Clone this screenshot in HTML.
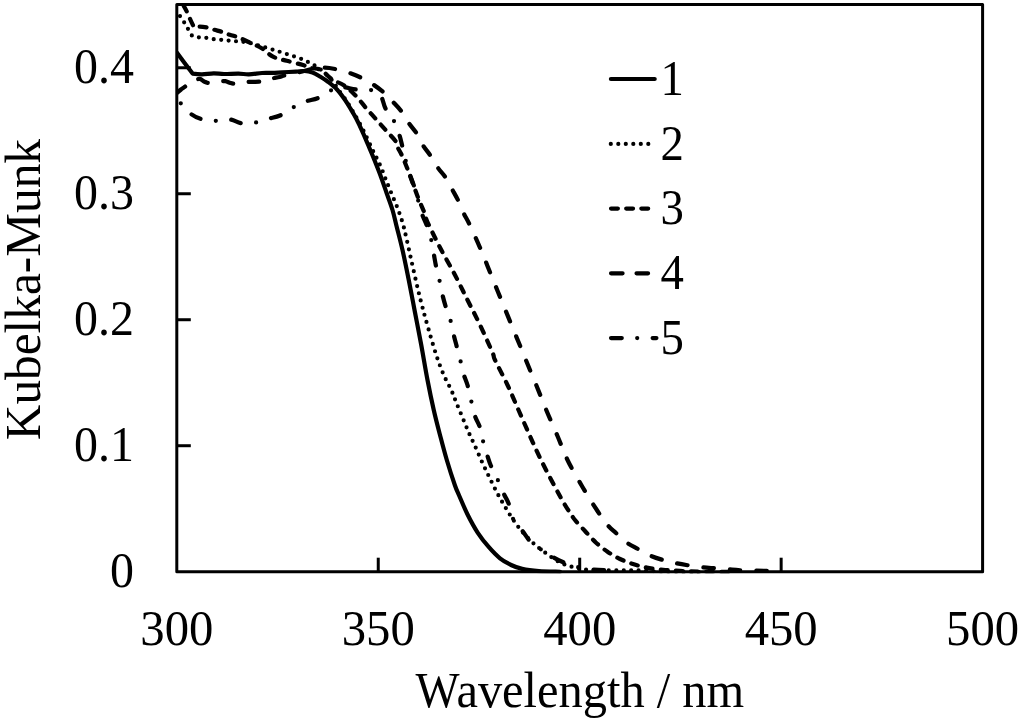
<!DOCTYPE html>
<html lang="en"><head><meta charset="utf-8"><title>Kubelka-Munk vs Wavelength</title>
<style>
html,body{margin:0;padding:0;background:#fff;}
body{width:1024px;height:720px;overflow:hidden;}
svg{display:block;}
text{font-family:"Liberation Serif","Times New Roman",Times,serif;font-size:48.7px;fill:#000;}
.c{fill:none;stroke:#000;stroke-width:4.25;stroke-linecap:round;stroke-linejoin:round;}
.ax{fill:none;stroke:#000;stroke-width:3.0;stroke-linecap:round;stroke-linejoin:round;}
.tk{fill:none;stroke:#000;stroke-width:3.0;stroke-linecap:butt;}
</style></head><body>
<svg width="1024" height="720" viewBox="0 0 1024 720">
<rect width="1024" height="720" fill="#fff"/>
<defs><clipPath id="pa"><rect x="176.8" y="4.4" width="805.8" height="568.7500000000001"/></clipPath></defs>

<g clip-path="url(#pa)">
<path class="c" style="stroke-width:4.2" d="M177.00,52.80 C179.60,56.27 192.60,73.60 192.60,73.60 C192.60,73.60 198.48,74.35 202.00,74.30 C205.52,74.25 210.03,73.35 213.70,73.30 C217.37,73.25 219.85,73.95 224.00,74.00 C228.15,74.05 234.47,73.53 238.60,73.60 C242.73,73.67 244.90,74.50 248.80,74.40 C252.70,74.30 258.13,73.25 262.00,73.00 C265.87,72.75 268.58,73.02 272.00,72.90 C275.42,72.78 278.50,72.52 282.50,72.30 C286.50,72.08 292.33,71.82 296.00,71.60 C299.67,71.38 301.75,70.83 304.50,71.00 C307.25,71.17 309.92,71.68 312.50,72.60 C315.08,73.52 317.37,74.93 320.00,76.50 C322.63,78.07 325.47,79.83 328.30,82.00 C331.13,84.17 334.20,86.50 337.00,89.50 C339.80,92.50 342.80,96.72 345.10,100.00 C347.40,103.28 348.95,106.12 350.80,109.20 C352.65,112.28 354.13,114.48 356.20,118.50 C358.27,122.52 360.86,128.05 363.20,133.30 C365.54,138.55 368.38,145.55 370.25,150.00 C372.12,154.45 372.72,155.83 374.40,160.00 C376.07,164.17 378.25,169.45 380.30,175.00 C382.35,180.55 384.67,187.47 386.70,193.30 C388.73,199.13 390.83,204.43 392.50,210.00 C394.17,215.57 395.03,220.03 396.70,226.70 C398.37,233.37 400.49,241.12 402.50,250.00 C404.51,258.88 406.67,269.58 408.75,280.00 C410.83,290.42 412.92,301.67 415.00,312.50 C417.08,323.33 419.17,333.75 421.25,345.00 C423.33,356.25 425.42,369.17 427.50,380.00 C429.58,390.83 431.67,400.83 433.75,410.00 C435.83,419.17 437.82,426.67 440.00,435.00 C442.18,443.33 444.33,451.67 446.80,460.00 C449.27,468.33 452.78,479.17 454.80,485.00 C456.82,490.83 456.73,490.00 458.90,495.00 C461.07,500.00 464.65,508.70 467.80,515.00 C470.95,521.30 474.28,527.43 477.80,532.80 C481.32,538.17 485.20,542.95 488.90,547.20 C492.60,551.45 496.30,555.33 500.00,558.30 C503.70,561.27 507.40,563.23 511.10,565.00 C514.80,566.77 517.57,567.88 522.20,568.90 C526.83,569.92 532.60,570.62 538.90,571.10 C545.20,571.58 556.48,571.68 560.00,571.80"/>
<path class="c" style="stroke-width:4.2" stroke-dasharray="0 7.5" stroke-dashoffset="2.04" d="M177.80,11.10 C178.17,11.93 178.93,14.20 180.00,16.10 C181.07,18.00 182.90,20.35 184.25,22.50 C185.60,24.65 186.82,26.82 188.10,29.00 C189.38,31.18 191.90,35.60 191.90,35.60 C191.90,35.60 196.53,36.92 199.00,37.30 C201.47,37.68 204.22,37.58 206.70,37.90 C209.18,38.22 211.45,38.88 213.90,39.20 C216.35,39.52 219.00,39.58 221.40,39.80 C223.80,40.02 225.75,40.25 228.30,40.50 C230.85,40.75 233.42,40.97 236.70,41.30 C239.98,41.63 244.12,41.72 248.00,42.50 C251.88,43.28 255.83,44.80 260.00,46.00 C264.17,47.20 268.55,48.37 273.00,49.70 C277.45,51.03 282.03,52.49 286.70,54.00 C291.37,55.51 297.45,57.42 301.00,58.75 C304.55,60.08 305.71,60.86 308.00,62.00 C310.29,63.14 312.65,64.37 314.75,65.60 C316.85,66.83 318.56,67.80 320.60,69.40 C322.64,71.00 324.93,73.18 327.00,75.20 C329.07,77.22 331.13,79.12 333.00,81.50 C334.87,83.88 336.07,86.42 338.20,89.50 C340.33,92.58 343.58,96.72 345.80,100.00 C348.02,103.28 349.63,106.12 351.50,109.20 C353.37,112.28 354.78,114.48 357.00,118.50 C359.22,122.52 362.20,128.05 364.80,133.30 C367.40,138.55 370.47,145.55 372.60,150.00 C374.73,154.45 376.12,156.95 377.60,160.00 C379.08,163.05 380.10,164.97 381.50,168.30 C382.90,171.63 384.30,175.72 386.00,180.00 C387.70,184.28 389.78,189.33 391.70,194.00 C393.62,198.67 395.70,203.25 397.50,208.00 C399.30,212.75 401.04,217.58 402.50,222.50 C403.96,227.42 404.79,231.25 406.25,237.50 C407.71,243.75 409.38,251.67 411.25,260.00 C413.12,268.33 415.62,279.58 417.50,287.50 C419.38,295.42 420.62,300.42 422.50,307.50 C424.38,314.58 426.46,322.08 428.75,330.00 C431.04,337.92 433.75,347.50 436.25,355.00 C438.75,362.50 441.25,369.17 443.75,375.00 C446.25,380.83 449.17,385.42 451.25,390.00 C453.33,394.58 454.38,397.92 456.25,402.50 C458.12,407.08 460.42,412.50 462.50,417.50 C464.58,422.50 466.67,427.75 468.75,432.50 C470.83,437.25 472.71,440.92 475.00,446.00 C477.29,451.08 480.03,457.63 482.50,463.00 C484.97,468.37 487.33,473.17 489.80,478.20 C492.27,483.23 494.82,488.55 497.30,493.20 C499.78,497.85 502.12,501.77 504.70,506.10 C507.28,510.43 509.97,515.03 512.80,519.20 C515.63,523.37 518.42,527.22 521.70,531.10 C524.98,534.98 528.62,538.93 532.50,542.50 C536.38,546.07 540.42,549.17 545.00,552.50 C549.58,555.83 555.00,559.98 560.00,562.50 C565.00,565.02 570.00,566.35 575.00,567.60 C580.00,568.85 582.50,569.53 590.00,570.00 C597.50,570.47 611.67,570.32 620.00,570.40 C628.33,570.48 632.50,570.27 640.00,570.50 C647.50,570.73 655.00,571.52 665.00,571.80 C675.00,572.08 694.17,572.13 700.00,572.20"/>
<path class="c" stroke-dasharray="6.8 8.33" stroke-dashoffset="0.78" d="M183.80,6.00 C184.42,7.17 186.42,10.75 187.50,13.00 C188.58,15.25 189.22,17.10 190.30,19.50 C191.38,21.90 194.00,27.40 194.00,27.40 C194.00,27.40 197.35,26.57 199.60,26.60 C201.85,26.63 205.10,27.08 207.50,27.60 C209.90,28.12 211.60,28.98 214.00,29.70 C216.40,30.42 219.57,31.13 221.90,31.90 C224.23,32.67 225.53,33.48 228.00,34.30 C230.47,35.12 233.37,35.57 236.70,36.80 C240.03,38.03 243.83,39.78 248.00,41.70 C252.17,43.62 257.53,45.80 261.70,48.30 C265.87,50.80 268.83,54.62 273.00,56.70 C277.17,58.78 281.70,59.42 286.70,60.80 C291.70,62.18 298.95,63.80 303.00,65.00 C307.05,66.20 308.00,67.17 311.00,68.00 C314.00,68.83 317.50,68.10 321.00,70.00 C324.50,71.90 328.10,76.80 332.00,79.40 C335.90,82.00 340.40,82.83 344.40,85.60 C348.40,88.37 352.47,92.35 356.00,96.00 C359.53,99.65 362.33,103.71 365.60,107.50 C368.87,111.29 372.27,115.00 375.60,118.75 C378.93,122.50 382.20,126.17 385.60,130.00 C389.00,133.82 393.93,138.70 396.00,141.70 C398.07,144.70 397.05,145.78 398.00,148.00 C398.95,150.22 400.12,151.50 401.70,155.00 C403.28,158.50 405.45,163.72 407.50,169.00 C409.55,174.28 412.08,181.53 414.00,186.70 C415.92,191.87 417.33,195.83 419.00,200.00 C420.67,204.17 422.67,208.20 424.00,211.70 C425.33,215.20 424.33,215.03 427.00,221.00 C429.67,226.97 435.33,238.50 440.00,247.50 C444.67,256.50 450.42,266.25 455.00,275.00 C459.58,283.75 463.33,291.67 467.50,300.00 C471.67,308.33 475.83,316.25 480.00,325.00 C484.17,333.75 490.00,346.67 492.50,352.50 C495.00,358.33 492.50,354.58 495.00,360.00 C497.50,365.42 503.58,376.67 507.50,385.00 C511.42,393.33 514.83,401.67 518.50,410.00 C522.17,418.33 525.75,426.67 529.50,435.00 C533.25,443.33 536.75,451.33 541.00,460.00 C545.25,468.67 551.00,479.50 555.00,487.00 C559.00,494.50 562.50,500.75 565.00,505.00 C567.50,509.25 568.33,510.00 570.00,512.50 C571.67,515.00 572.50,516.92 575.00,520.00 C577.50,523.08 581.53,527.25 585.00,531.00 C588.47,534.75 592.05,539.05 595.80,542.50 C599.55,545.95 603.47,548.95 607.50,551.70 C611.53,554.45 615.75,556.95 620.00,559.00 C624.25,561.05 628.55,562.57 633.00,564.00 C637.45,565.43 641.70,566.63 646.70,567.60 C651.70,568.57 657.45,569.25 663.00,569.80 C668.55,570.35 673.83,570.58 680.00,570.90 C686.17,571.22 690.83,571.52 700.00,571.70 C709.17,571.88 729.17,571.95 735.00,572.00"/>
<path class="c" stroke-dasharray="10.5 15.45" stroke-dashoffset="0.15" d="M177.00,93.00 C177.67,92.42 179.67,90.55 181.00,89.50 C182.33,88.45 183.50,87.95 185.00,86.70 C186.50,85.45 188.27,83.08 190.00,82.00 C191.73,80.92 193.77,80.72 195.40,80.20 C197.03,79.68 198.33,78.67 199.80,78.90 C201.27,79.13 202.82,80.95 204.20,81.60 C205.58,82.25 206.38,82.70 208.10,82.80 C209.82,82.90 212.35,82.43 214.50,82.20 C216.65,81.97 219.18,81.57 221.00,81.40 C222.82,81.23 223.82,80.93 225.40,81.20 C226.98,81.47 229.03,82.60 230.50,83.00 C231.97,83.40 232.62,83.60 234.20,83.60 C235.78,83.60 237.93,83.25 240.00,83.00 C242.07,82.75 244.43,82.30 246.60,82.10 C248.77,81.90 250.80,81.88 253.00,81.80 C255.20,81.72 257.63,81.87 259.80,81.60 C261.97,81.33 263.93,80.73 266.00,80.20 C268.07,79.67 269.93,78.93 272.20,78.40 C274.47,77.87 277.40,77.53 279.60,77.00 C281.80,76.47 282.00,76.03 285.40,75.20 C288.80,74.37 295.57,73.03 300.00,72.00 C304.43,70.97 307.87,69.73 312.00,69.00 C316.13,68.27 320.65,67.53 324.80,67.60"/>
<path class="c" stroke-dasharray="10.5 16.0" stroke-dashoffset="0.15" d="M324.80,67.60 C328.95,67.67 332.80,68.50 336.90,69.40 C341.00,70.30 345.34,71.61 349.40,73.00 C353.46,74.39 357.32,75.85 361.25,77.75 C365.18,79.65 369.25,81.94 373.00,84.40 C376.75,86.86 380.42,89.58 383.75,92.50 C387.08,95.42 389.98,98.67 393.00,101.90 C396.02,105.13 399.27,108.38 401.90,111.90 C404.52,115.42 406.25,119.36 408.75,123.00 C411.25,126.64 414.47,129.95 416.90,133.75 C419.32,137.55 421.12,142.26 423.30,145.80 C425.48,149.34 427.50,151.25 430.00,155.00 C432.50,158.75 435.80,164.68 438.30,168.30 C440.80,171.92 442.63,173.08 445.00,176.70 C447.37,180.32 450.28,185.98 452.50,190.00 C454.72,194.02 456.43,196.92 458.30,200.80 C460.17,204.68 461.78,209.27 463.70,213.30 C465.62,217.33 466.92,218.88 469.80,225.00 C472.68,231.12 477.45,241.67 481.00,250.00 C484.55,258.33 487.72,266.67 491.10,275.00 C494.48,283.33 497.90,291.67 501.30,300.00 C504.70,308.33 508.08,316.67 511.50,325.00 C514.92,333.33 518.55,342.08 521.80,350.00 C525.05,357.92 528.59,366.67 531.00,372.50 C533.41,378.33 533.71,378.75 536.25,385.00 C538.79,391.25 542.71,401.50 546.25,410.00 C549.79,418.50 553.88,427.50 557.50,436.00 C561.12,444.50 563.83,452.50 568.00,461.00 C572.17,469.50 577.58,478.67 582.50,487.00 C587.42,495.33 593.33,504.67 597.50,511.00 C601.67,517.33 604.42,521.33 607.50,525.00 C610.58,528.67 612.80,530.08 616.00,533.00 C619.20,535.92 623.03,539.83 626.70,542.50 C630.37,545.17 634.12,546.83 638.00,549.00 C641.88,551.17 645.83,553.67 650.00,555.50 C654.17,557.33 658.83,558.75 663.00,560.00 C667.17,561.25 670.83,562.12 675.00,563.00 C679.17,563.88 683.55,564.60 688.00,565.30 C692.45,566.00 697.20,566.70 701.70,567.20 C706.20,567.70 710.62,567.95 715.00,568.30 C719.38,568.65 723.67,568.97 728.00,569.30 C732.33,569.63 734.50,570.02 741.00,570.30 C747.50,570.58 762.67,570.88 767.00,571.00"/>
<path class="c" stroke-dasharray="10.1 15.45 0 15.45" stroke-dashoffset="19.05" d="M177.00,98.00 C177.63,98.88 178.50,100.67 180.80,103.30 C183.10,105.93 187.32,111.15 190.80,113.80 C194.28,116.45 197.53,118.03 201.70,119.20 C205.87,120.37 211.08,120.75 215.80,120.80 C220.52,120.85 225.68,119.08 230.00,119.50 C234.32,119.92 237.45,122.80 241.70,123.30 C245.95,123.80 251.07,123.25 255.50,122.50 C259.93,121.75 264.22,119.97 268.30,118.80 C272.38,117.63 275.97,117.33 280.00,115.50 C284.03,113.67 288.33,110.10 292.50,107.80 C296.67,105.50 300.75,103.33 305.00,101.70 C309.25,100.07 313.88,99.78 318.00,98.00 C322.12,96.22 326.58,92.75 329.75,91.00 C332.92,89.25 334.67,88.13 337.00,87.50 C339.33,86.87 340.42,86.87 343.75,87.20 C347.08,87.53 352.52,89.03 357.00,89.50 C361.48,89.97 367.18,89.58 370.60,90.00 C374.02,90.42 375.62,90.67 377.50,92.00 C379.38,93.33 380.55,95.21 381.90,98.00 C383.25,100.79 383.58,104.92 385.60,108.75 C387.62,112.58 391.70,116.62 394.00,121.00"/>
<path class="c" stroke-dasharray="0 15.775 10.1 15.775" stroke-dashoffset="0" d="M394.00,121.00 C396.30,125.38 398.07,131.00 399.40,135.00 C400.73,139.00 401.07,141.17 402.00,145.00 C402.93,148.83 403.83,153.50 405.00,158.00 C406.17,162.50 407.50,167.33 409.00,172.00 C410.50,176.67 412.50,181.33 414.00,186.00 C415.50,190.67 416.67,195.33 418.00,200.00 C419.33,204.67 420.50,209.67 422.00,214.00 C423.50,218.33 425.50,221.88 427.00,226.00 C428.50,230.12 429.88,234.12 431.00,238.75 C432.12,243.38 432.92,249.21 433.75,253.75 C434.58,258.29 435.04,261.54 436.00,266.00 C436.96,270.46 438.42,275.67 439.50,280.50 C440.58,285.33 441.42,290.50 442.50,295.00 C443.58,299.50 444.67,303.25 446.00,307.50 C447.33,311.75 449.21,315.92 450.50,320.50 C451.79,325.08 452.67,330.50 453.75,335.00 C454.83,339.50 455.88,343.17 457.00,347.50 C458.12,351.83 459.50,356.83 460.50,361.00 C461.50,365.17 461.83,368.50 463.00,372.50 C464.17,376.50 466.12,380.25 467.50,385.00 C468.88,389.75 470.00,395.83 471.25,401.00 C472.50,406.17 473.54,411.58 475.00,416.00 C476.46,420.42 478.67,423.33 480.00,427.50 C481.33,431.67 481.75,436.25 483.00,441.00 C484.25,445.75 486.17,451.83 487.50,456.00 C488.83,460.17 489.25,461.92 491.00,466.00 C492.75,470.08 495.88,475.88 498.00,480.50 C500.12,485.12 501.96,489.88 503.75,493.75 C505.54,497.62 507.21,499.58 508.75,503.75 C510.29,507.92 510.71,514.21 513.00,518.75 C515.29,523.29 519.67,527.29 522.50,531.00 C525.33,534.71 527.08,538.04 530.00,541.00 C532.92,543.96 536.04,546.00 540.00,548.75 C543.96,551.50 549.79,555.21 553.75,557.50 C557.71,559.79 560.88,561.25 563.75,562.50 C566.62,563.75 567.29,563.93 571.00,565.00 C574.71,566.07 579.17,567.97 586.00,568.90 C592.83,569.83 607.67,570.32 612.00,570.60"/>
</g>
<rect class="ax" x="176.8" y="4.4" width="805.8" height="567.3000000000001"/>
<line class="tk" x1="176.8" y1="445.72" x2="190.8" y2="445.72"/>
<line class="tk" x1="176.8" y1="319.73" x2="190.8" y2="319.73"/>
<line class="tk" x1="176.8" y1="193.75" x2="190.8" y2="193.75"/>
<line class="tk" x1="176.8" y1="67.77" x2="190.8" y2="67.77"/>
<line class="tk" x1="378.25" y1="571.7" x2="378.25" y2="557.7"/>
<line class="tk" x1="579.70" y1="571.7" x2="579.70" y2="557.7"/>
<line class="tk" x1="781.15" y1="571.7" x2="781.15" y2="557.7"/>
<text transform="translate(133.90,587.30) scale(0.985,1.045)" text-anchor="end">0</text>
<text transform="translate(133.90,461.32) scale(0.985,1.045)" text-anchor="end">0.1</text>
<text transform="translate(133.90,335.33) scale(0.985,1.045)" text-anchor="end">0.2</text>
<text transform="translate(133.90,209.35) scale(0.985,1.045)" text-anchor="end">0.3</text>
<text transform="translate(133.90,83.37) scale(0.985,1.045)" text-anchor="end">0.4</text>
<text transform="translate(176.80,645.40) scale(1.0,1.04)" text-anchor="middle">300</text>
<text transform="translate(378.25,645.40) scale(1.0,1.04)" text-anchor="middle">350</text>
<text transform="translate(579.70,645.40) scale(1.0,1.04)" text-anchor="middle">400</text>
<text transform="translate(781.15,645.40) scale(1.0,1.04)" text-anchor="middle">450</text>
<text transform="translate(982.60,645.40) scale(1.0,1.04)" text-anchor="middle">500</text>
<text transform="translate(459.50,707.20) scale(0.96,1.03)" text-anchor="end">W</text>
<text transform="translate(456.40,707.20) scale(0.995,1.03)" text-anchor="start">avelength / nm</text>
<text transform="translate(40.00,289.60) rotate(-90) scale(1.012,1.02)" text-anchor="middle">Kubelka-Munk</text>
<path class="c" style="stroke-width:4.2" d="M610.9,79.0 H654.7"/>
<path class="c" style="stroke-width:4.2" stroke-dasharray="0 7.5" d="M610.8,143.9 H649"/>
<path class="c" stroke-dasharray="6.8 8.35" d="M611.05,208.6 H649"/>
<path class="c" stroke-dasharray="11.5 14.0" d="M611.05,273.3 H650"/>
<path class="c" stroke-dasharray="10.7 15.45 0 15.45" d="M611.05,338.0 H656.4"/>
<text transform="translate(660.60,94.90) scale(0.96,1.035)" text-anchor="start">1</text>
<text transform="translate(660.60,159.60) scale(0.96,1.035)" text-anchor="start">2</text>
<text transform="translate(660.60,224.30) scale(0.96,1.035)" text-anchor="start">3</text>
<text transform="translate(660.60,289.00) scale(0.96,1.035)" text-anchor="start">4</text>
<text transform="translate(660.60,353.70) scale(0.96,1.035)" text-anchor="start">5</text>
</svg></body></html>
